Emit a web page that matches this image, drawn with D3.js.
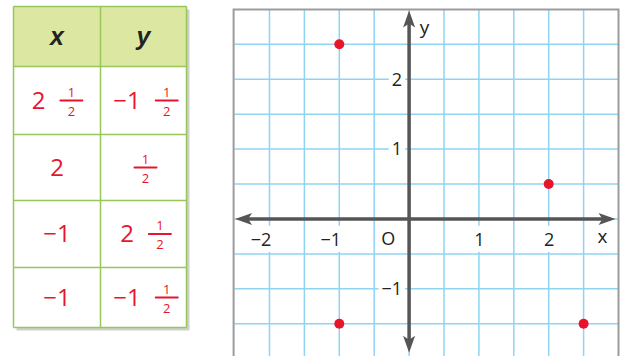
<!DOCTYPE html>
<html>
<head>
<meta charset="utf-8">
<script src="https://cdn.jsdelivr.net/npm/d3@7"></script>
<style>
  body { margin: 0; background: #fff; }
  svg { display: block; }
</style>
</head>
<body>
<div id="chart"></div>
<script>
// table values (x, y) in row order, also the plotted points
const xValues = [2.5, 2, -1, -1];
const yValues = [-1.5, 0.5, 2.5, -1.5];
const headers = ["x", "y"];

const xTicks = [-2, -1, 1, 2];
const yTicks = [-1, 1, 2];

const W = 621, H = 356;
const red = "#e8142b";
const gridColor = "#8fd4f3";
const axisColor = "#555";

const svg = d3.select("#chart").append("svg")
    .attr("width", W)
    .attr("height", H);

// ---- table ----
const colEdges = [13.5, 100.5, 186.5];
const rowEdges = [6.5, 66.5, 134.5, 200.5, 267.5, 327.5];

const table = svg.append("g");

// shadow
table.append("rect")
    .attr("x", colEdges[0] + 3).attr("y", rowEdges[0] + 3)
    .attr("width", colEdges[2] - colEdges[0]).attr("height", rowEdges[5] - rowEdges[0])
    .attr("fill", "#cfcfcf");
table.append("rect")
    .attr("x", colEdges[0]).attr("y", rowEdges[0])
    .attr("width", colEdges[2] - colEdges[0]).attr("height", rowEdges[5] - rowEdges[0])
    .attr("fill", "#fff");
table.append("rect")
    .attr("x", colEdges[0]).attr("y", rowEdges[0])
    .attr("width", colEdges[2] - colEdges[0]).attr("height", rowEdges[1] - rowEdges[0])
    .attr("fill", "#dce8a2");

table.selectAll("line.h").data(rowEdges).enter().append("line")
    .attr("x1", colEdges[0]).attr("x2", colEdges[2])
    .attr("y1", d => d).attr("y2", d => d)
    .attr("stroke", "#97c65a").attr("stroke-width", 1.5);
table.selectAll("line.v").data(colEdges).enter().append("line")
    .attr("y1", rowEdges[0]).attr("y2", rowEdges[5])
    .attr("x1", d => d).attr("x2", d => d)
    .attr("stroke", "#97c65a").attr("stroke-width", 1.5);

headers.forEach((h, i) => {
    table.append("text")
        .attr("x", (colEdges[i] + colEdges[i + 1]) / 2)
        .attr("y", (rowEdges[0] + rowEdges[1]) / 2 + 8)
        .attr("text-anchor", "middle")
        .attr("font-family", "Liberation Sans, Arial, sans-serif")
        .attr("font-size", 25)
        .attr("font-weight", "bold")
        .attr("font-style", "italic")
        .attr("fill", "#222")
        .text(h);
});

// mixed number, e.g. -1.5 -> "−1" and 1/2
function drawMixed(cx, cy, v) {
    const g = table.append("g");
    const a = Math.abs(v);
    const whole = Math.floor(a);
    const half = a - whole > 0;
    const wholeStr = (v < 0 ? "\u2212" : "") + (whole ? whole : "");
    let w = 0;
    if (wholeStr) {
        const t = g.append("text")
            .attr("x", 0).attr("y", 8)
            .attr("font-family", "Open Sans, sans-serif")
            .attr("font-size", 24)
            .attr("fill", red)
            .text(wholeStr);
        w = t.node().getComputedTextLength();
    }
    if (half) {
        const fx = w + (wholeStr ? 15 : 0);
        const f = g.append("g").attr("transform", `translate(${fx},0)`);
        f.append("line").attr("x1", 0).attr("x2", 22).attr("y1", 0).attr("y2", 0)
            .attr("stroke", red).attr("stroke-width", 2).attr("stroke-linecap", "round");
        f.append("text").attr("x", 11).attr("y", -4).attr("text-anchor", "middle")
            .attr("font-family", "Open Sans, sans-serif").attr("font-size", 13)
            .attr("fill", red).text("1");
        f.append("text").attr("x", 11).attr("y", 15).attr("text-anchor", "middle")
            .attr("font-family", "Open Sans, sans-serif").attr("font-size", 13)
            .attr("fill", red).text("2");
        w = fx + 22;
    }
    g.attr("transform", `translate(${cx - w / 2},${cy})`);
}

xValues.forEach((xv, i) => {
    const cy = (rowEdges[i + 1] + rowEdges[i + 2]) / 2;
    drawMixed((colEdges[0] + colEdges[1]) / 2, cy, xv);
    drawMixed((colEdges[1] + colEdges[2]) / 2 + 2, cy, yValues[i]);
});

// ---- coordinate grid ----
const x = d3.scaleLinear().domain([-2.5, 3]).range([234.6, 618.5]);
const y = d3.scaleLinear().domain([-2, 3]).range([358.7, 9.4]);

const grid = svg.append("g");
grid.append("rect")
    .attr("x", x(-2.5)).attr("y", y(3))
    .attr("width", x(3) - x(-2.5)).attr("height", y(-2) - y(3))
    .attr("fill", "#fff");

const gx = d3.range(-2, 3, 0.5);
const gy = d3.range(-2, 3, 0.5);
grid.selectAll("line.gx").data(gx).enter().append("line")
    .attr("x1", d => x(d)).attr("x2", d => x(d))
    .attr("y1", y(3)).attr("y2", y(-2))
    .attr("stroke", gridColor).attr("stroke-width", 1.5);
grid.selectAll("line.gy").data(gy).enter().append("line")
    .attr("y1", d => y(d)).attr("y2", d => y(d))
    .attr("x1", x(-2.5)).attr("x2", x(3))
    .attr("stroke", gridColor).attr("stroke-width", 1.5);

// border
grid.append("path")
    .attr("d", `M${x(-2.5) - 1},${H + 2}V${y(3)}H${x(3)}V${H + 2}`)
    .attr("fill", "none").attr("stroke", "#9c9c9c").attr("stroke-width", 2);

const fmt = d => (d < 0 ? "\u2212" + Math.abs(d) : String(d));
const labelFont = "Open Sans, sans-serif";

// tick labels through d3 axes
const xAxis = svg.append("g")
    .attr("transform", `translate(0,${y(0)})`)
    .call(d3.axisBottom(x).tickValues(xTicks).tickSize(0).tickPadding(14).tickFormat(fmt));
xAxis.select(".domain").remove();
xAxis.selectAll("text")
    .attr("font-family", labelFont).attr("font-size", 18).attr("fill", "#222")
    .attr("dx", d => d < 0 ? -9 : 0);

const yAxis = svg.append("g")
    .attr("transform", `translate(${x(0)},0)`)
    .call(d3.axisLeft(y).tickValues(yTicks).tickSize(0).tickPadding(7).tickFormat(fmt));
yAxis.select(".domain").remove();
yAxis.selectAll("text")
    .attr("font-family", labelFont).attr("font-size", 18).attr("fill", "#222");

svg.append("text")
    .attr("x", x(-0.3)).attr("y", y(0) + 26)
    .attr("text-anchor", "middle")
    .attr("font-family", labelFont).attr("font-size", 18).attr("fill", "#222")
    .text("O");

// white boxes behind tick labels
[xAxis, yAxis].forEach(ax => {
    ax.selectAll(".tick").each(function () {
        const t = d3.select(this).select("text");
        const b = t.node().getBBox();
        d3.select(this).insert("rect", "text")
            .attr("x", b.x - 3).attr("y", b.y - 1)
            .attr("width", b.width + 6).attr("height", b.height + 2)
            .attr("fill", "#fff");
    });
});

// axes with arrowheads
const axes = svg.append("g").attr("fill", axisColor);
axes.append("line")
    .attr("x1", x(-2.5) + 8).attr("x2", x(3) - 8)
    .attr("y1", y(0)).attr("y2", y(0))
    .attr("stroke", axisColor).attr("stroke-width", 3.5);
axes.append("line")
    .attr("x1", x(0)).attr("x2", x(0))
    .attr("y1", y(3) + 8).attr("y2", y(-2) - 12)
    .attr("stroke", axisColor).attr("stroke-width", 3.5);

const arrow = (tx, ty, dx, dy) => {
    // tip at (tx,ty), pointing direction (dx,dy)
    const L = 17, hw = 6;
    const bx = tx - dx * L, by = ty - dy * L;
    return `M${tx},${ty}L${bx - dy * hw},${by + dx * hw}L${bx + dx * 4},${by + dy * 4}L${bx + dy * hw},${by - dx * hw}Z`;
};
axes.append("path").attr("d", arrow(x(-2.5) + 0.5, y(0), -1, 0));
axes.append("path").attr("d", arrow(x(3) - 3, y(0), 1, 0));
axes.append("path").attr("d", arrow(x(0), y(3) + 1, 0, -1));
axes.append("path").attr("d", arrow(x(0), y(-2) - 6, 0, 1));

svg.append("text")
    .attr("x", x(2.77)).attr("y", y(0) + 24)
    .attr("text-anchor", "middle")
    .attr("font-family", labelFont).attr("font-size", 19).attr("fill", "#222")
    .text("x");
svg.append("text")
    .attr("x", x(0.22)).attr("y", y(2.65))
    .attr("text-anchor", "middle")
    .attr("font-family", labelFont).attr("font-size", 19).attr("fill", "#222")
    .text("y");

// points
svg.append("g").selectAll("circle")
    .data(xValues)
    .enter().append("circle")
    .attr("cx", d => x(d))
    .attr("cy", (d, i) => y(yValues[i]))
    .attr("r", 5)
    .attr("fill", red);
</script>
</body>
</html>
